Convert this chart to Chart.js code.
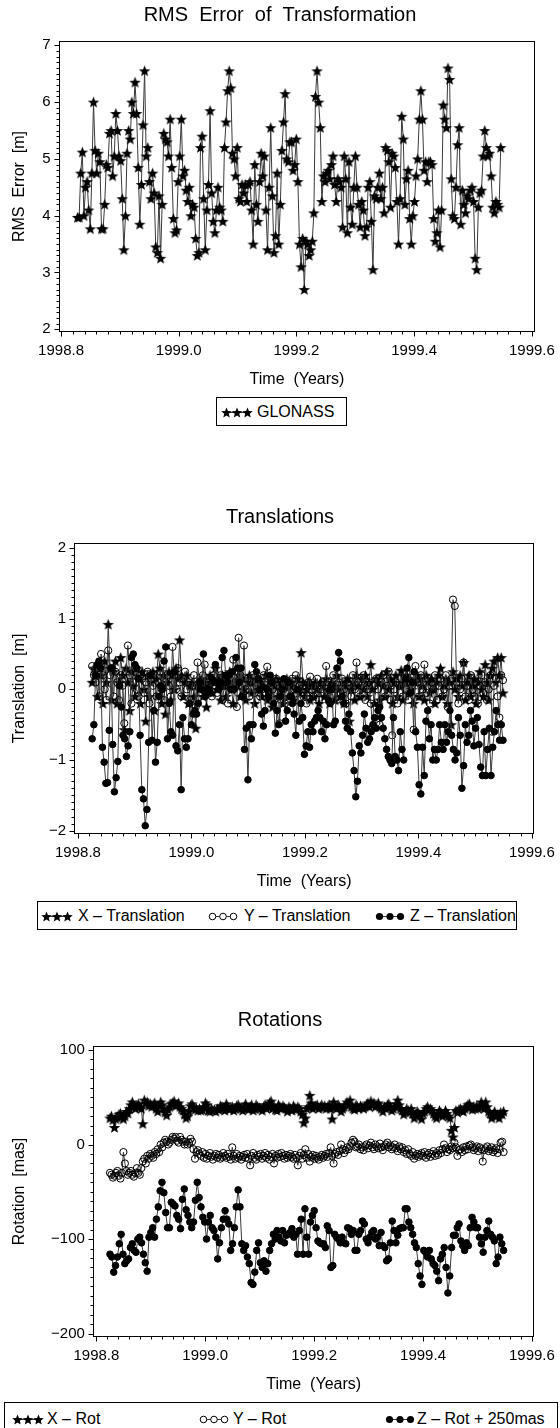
<!DOCTYPE html>
<html>
<head>
<meta charset="utf-8">
<script src="https://cdn.jsdelivr.net/npm/chart.js@4.4.1/dist/chart.umd.min.js"></script>
<style>
  html, body { margin: 0; padding: 0; background: #fff; }
  body { position: relative; width: 560px; height: 1428px; overflow: hidden;
         font-family: "Liberation Sans", Arial, Helvetica, sans-serif; color: #000; }
  canvas.plot { position: absolute; left: 0; }
  .legend { position: absolute; border: 1px solid #000; box-sizing: border-box; background: #fff; }
  .legend canvas { position: absolute; }
  .legend span { position: absolute; font-size: 16px; line-height: 18px; white-space: nowrap; }
</style>
</head>
<body>
<canvas id="c1" class="plot" width="560" height="400" style="top:0px;width:560px;height:400px"></canvas>
<canvas id="c2" class="plot" width="560" height="400" style="top:502px;width:560px;height:400px"></canvas>
<canvas id="c3" class="plot" width="560" height="400" style="top:1005px;width:560px;height:400px"></canvas>

<div class="legend" style="left:216px;top:397px;width:131px;height:29px">
  <canvas id="m1" width="32" height="14" style="left:4px;top:7px"></canvas>
  <span style="left:40px;top:5px">GLONASS</span>
</div>
<div class="legend" style="left:37px;top:901px;width:480px;height:29px">
  <canvas id="m2a" width="32" height="14" style="left:3px;top:7px"></canvas>
  <span style="left:40px;top:5px">X – Translation</span>
  <canvas id="m2b" width="32" height="14" style="left:169px;top:7px"></canvas>
  <span style="left:206px;top:5px">Y – Translation</span>
  <canvas id="m2c" width="32" height="14" style="left:336px;top:7px"></canvas>
  <span style="left:372px;top:5px">Z – Translation</span>
</div>
<div class="legend" style="left:4px;top:1402px;width:554px;height:40px">
  <canvas id="m3a" width="32" height="14" style="left:7px;top:9px"></canvas>
  <span style="left:42px;top:7px">X – Rot</span>
  <canvas id="m3b" width="32" height="14" style="left:193px;top:9px"></canvas>
  <span style="left:228px;top:7px">Y – Rot</span>
  <canvas id="m3c" width="32" height="14" style="left:379px;top:9px"></canvas>
  <span style="left:412px;top:7px">Z – Rot + 250mas</span>
</div>

<script>
// ---------------- DATA ----------------
const yearTicks = [1998.8, 1999.0, 1999.2, 1999.4, 1999.6];
const rmsTicks = [2, 3, 4, 5, 6, 7];
const translationTicks = [-2, -1, 0, 1, 2];
const rotationTicks = [-200, -100, 0, 100];

// first / last epoch of each daily series (decimal years)
const RMS_START = 1998.828, RMS_END = 1999.547;
const TR_START = 1998.825, TR_END = 1999.549;
const ROT_START = 1998.825, ROT_END = 1999.548;

const glonassRms = [
  3.97, 3.97, 4.75, 5.12, 4.0, 4.5, 4.6, 4.1, 3.77, 4.75,
  6.0, 5.15, 4.75, 5.1, 4.95, 3.77, 3.77, 4.2, 4.9, 4.85,
  5.45, 5.5, 4.7, 5.05, 5.8, 5.5, 5.05, 4.97, 4.3, 3.4,
  4.0, 5.1, 5.5, 5.35, 6.0, 5.8, 6.35, 5.8, 4.85, 3.85,
  4.55, 5.6, 6.55, 5.05, 5.2, 4.6, 4.3, 4.75, 4.4, 3.45,
  3.35, 4.35, 3.25, 4.2, 5.45, 5.35, 5.3, 5.05, 5.7, 4.85,
  3.95, 3.7, 3.75, 4.6, 5.05, 5.7, 4.7, 4.8, 4.45, 4.25,
  4.5, 4.0, 4.2, 4.15, 3.6, 3.3, 3.35, 5.2, 5.4, 4.3,
  3.4, 4.1, 4.55, 5.85, 4.4, 3.9, 3.7, 4.1, 4.5, 4.15,
  4.1, 3.9, 5.2, 5.65, 6.2, 6.55, 6.25, 5.1, 5.0, 4.7,
  5.2, 4.3, 4.25, 4.55, 4.4, 4.55, 4.25, 4.55, 4.6, 4.1,
  3.5, 4.9, 4.2, 3.9, 4.6, 5.1, 4.7, 5.05, 4.1, 3.4,
  4.5, 5.55, 4.35, 3.35, 3.65, 4.75, 3.5, 4.2, 5.15, 5.65,
  6.15, 5.0, 4.95, 5.3, 5.3, 4.8, 4.9, 5.35, 4.6, 3.5,
  3.1, 3.6, 2.7, 3.55, 3.5, 3.3, 3.4, 3.55, 4.05, 6.1,
  6.55, 6.0, 5.55, 4.25, 4.7, 4.6, 4.75, 4.8, 4.65, 4.9,
  5.05, 4.55, 4.25, 4.65, 4.6, 4.5, 3.8, 5.05, 4.65, 3.7,
  4.95, 4.15, 3.85, 4.5, 5.05, 4.5, 4.2, 3.8, 4.25, 4.1,
  3.65, 3.8, 4.5, 4.6, 3.9, 3.05, 4.35, 4.3, 4.5, 4.75,
  4.3, 4.5, 4.05, 5.2, 5.15, 4.95, 4.15, 5.1, 5.05, 4.85,
  4.25, 3.5, 4.3, 5.75, 5.35, 4.2, 4.65, 4.8, 3.95, 3.5,
  4.0, 4.25, 4.7, 5.0, 5.7, 6.2, 5.7, 4.8, 4.95, 4.6,
  4.95, 4.95, 4.9, 3.95, 3.55, 3.7, 4.1, 3.45, 4.1, 5.95,
  5.7, 5.55, 6.6, 6.4, 4.65, 4.0, 3.95, 4.5, 5.25, 5.55,
  3.85, 4.45, 4.2, 4.05, 4.35, 4.3, 4.45, 4.5, 4.25, 3.25,
  3.05, 4.15, 4.4, 4.45, 5.05, 5.5, 5.2, 5.05, 5.1, 4.7,
  4.15, 4.05, 4.25, 4.2, 4.15, 5.2
];

const xTranslation = [
  0.1, 0.3, 0.2, -0.1, 0.35, 0.2, -0.2, 0.4, 0.1, 0.92,
  0.3, -0.15, 0.25, 0.4, -0.2, 0.1, 0.45, 0.2, -0.57, 0.3,
  0.1, -0.3, 0.25, 0.05, -0.1, 0.3, 0.15, -0.2, 0.25, 0.0,
  -0.45, 0.2, -0.1, 0.1, 0.25, -0.3, 0.15, 0.5, 0.3, -0.2,
  0.2, -0.35, 0.1, 0.25, -0.15, 0.2, 0.0, 0.3, 0.15, 0.7,
  0.2, -0.1, 0.1, 0.2, -0.2, 0.05, 0.1, -0.1, -0.55, 0.05,
  0.0, 0.15, -0.1, 0.1, -0.25, 0.05, 0.2, -0.05, 0.1, 0.3,
  0.0, 0.15, -0.15, 0.2, 0.05, -0.1, 0.1, 0.25, 0.0, -0.2,
  0.1, 0.05, 0.2, -0.1, 0.15, 0.0, -0.15, 0.1, 0.2, -0.05,
  0.1, -0.2, 0.15, 0.0, 0.1, -0.1, 0.05, 0.2, -0.15, 0.0,
  0.1, -0.25, 0.05, 0.15, -0.1, 0.0, 0.1, -0.2, 0.05, 0.15,
  -0.1, 0.05, 0.1, -0.15, 0.0, 0.15, -0.05, 0.52, 0.1, -0.1,
  0.0, 0.1, -0.15, 0.05, -0.1, 0.1, 0.0, -0.2, 0.1, 0.05,
  -0.1, 0.15, 0.0, -0.2, 0.1, 0.05, -0.15, 0.2, 0.0, -0.1,
  0.1, -0.2, 0.05, 0.15, -0.45, 0.0, 0.1, -0.15, 0.2, 0.05,
  -0.1, 0.15, 0.0, 0.2, -0.1, 0.1, 0.35, 0.0, -0.2, 0.15,
  0.1, -0.15, 0.2, 0.05, -0.1, 0.25, 0.0, 0.15, -0.2, 0.1,
  0.2, -0.1, 0.05, 0.27, -0.15, 0.1, 0.2, -0.05, 0.15, 0.0,
  -0.2, 0.1, 0.2, -0.1, 0.15, 0.05, -0.15, 0.2, 0.1, -0.05,
  0.15, 0.0, -0.2, 0.1, 0.2, 0.3, -0.1, 0.05, 0.15, -0.2,
  0.1, -0.5, 0.25, 0.0, 0.15, -0.1, 0.2, 0.05, 0.38, -0.15,
  0.1, 0.2, -0.1, 0.05, 0.15, -0.2, 0.1, 0.25, 0.0, -0.1,
  0.35, 0.1, -0.15, 0.2, 0.3, 0.4, 0.1, 0.45, 0.2, 0.45, -0.05
];

const yTranslation = [
  0.33, 0.2, 0.1, 0.3, -0.1, 0.5, 0.2, 0.0, -0.15, 0.55,
  0.2, 0.3, -0.1, 0.25, 0.1, -0.15, 0.2, 0.05, -0.48, 0.25,
  0.62, 0.2, -0.2, 0.1, 0.25, 0.0, -0.1, 0.2, 0.15, -0.05,
  0.1, 0.25, -0.2, 0.15, 0.05, 0.2, -0.1, 0.1, 0.25, 0.0,
  -0.15, 0.1, 0.2, 0.05, -0.1, 0.6, 0.2, 0.0, 0.3, 0.1,
  -0.1, 0.15, 0.25, 0.0, 0.1, -0.15, 0.05, 0.2, -0.25, 0.38,
  0.1, -0.05, 0.2, 0.35, 0.1, 0.0, 0.15, -0.1, 0.2, 0.05,
  -0.05, 0.1, 0.2, -0.15, 0.05, 0.1, -0.2, 0.15, 0.0, 0.42,
  0.1, -0.25, 0.73, 0.2, -0.1, 0.62, 0.0, 0.15, -0.1, 0.1,
  0.2, -0.05, 0.05, 0.15, -0.1, 0.0, 0.2, 0.1, 0.32, -0.05,
  0.1, 0.0, -0.15, 0.15, 0.05, -0.48, 0.1, 0.0, -0.2, 0.1,
  0.05, -0.1, 0.15, 0.0, 0.2, -0.15, 0.05, 0.1, -0.05, 0.0,
  -0.2, 0.1, 0.18, 0.0, -0.1, 0.05, 0.15, -0.15, 0.0, 0.1,
  -0.05, 0.33, 0.1, -0.1, 0.05, 0.2, 0.0, -0.15, 0.1, -0.05,
  0.15, 0.0, -0.2, 0.1, 0.05, -0.1, 0.2, 0.0, 0.38, 0.1,
  -0.1, 0.05, 0.2, -0.15, 0.0, 0.1, -0.2, -0.55, 0.05, 0.15,
  0.0, -0.5, 0.1, 0.2, -0.1, 0.05, 0.25, -0.15, -0.65, 0.0,
  0.1, -0.2, 0.05, 0.15, -0.1, 0.2, 0.0, -0.15, 0.1, 0.05,
  -0.57, 0.33, 0.1, -0.1, 0.2, 0.0, 0.35, -0.05, 0.15, -0.2,
  0.1, 0.0, 0.2, -0.15, 0.05, 0.15, -0.1, 0.0, 0.2, -0.25,
  0.05, 0.15, 1.27, 1.18, 0.1, -0.2, 0.0, 0.15, 0.38, -0.1,
  0.05, -0.15, 0.2, 0.0, -0.1, 0.1, -0.2, 0.05, 0.2, -0.05,
  0.1, -0.15, 0.0, 0.2, -0.6, 0.05, 0.15, -0.1, -0.4, 0.2, 0.13
];

const zTranslation = [
  -0.7, -0.5, 0.2, 0.35, 0.4, 0.3, -0.82, -1.03, -1.33, -1.32,
  -0.58, 0.3, -0.78, -1.45, -1.25, -1.02, 0.05, -0.25, -0.65, -0.7,
  -0.95, -0.8, -0.6, 0.45, 0.5, 0.35, 0.3, 0.15, -0.65, -1.42,
  -1.55, -1.93, -1.7, -0.75, 0.2, -0.72, -0.3, -1.03, -0.75, -0.1,
  0.05, 0.0, 0.4, 0.6, -0.7, -0.2, -0.6, -0.65, 0.25, -0.8,
  -0.87, -0.5, -1.42, -0.4, -0.7, -0.82, -0.7, -0.2, -0.5, -0.35,
  -0.3, -0.35, -0.2, 0.1, 0.0, 0.5, -0.1, 0.0, 0.0, -0.05,
  0.15, 0.1, 0.35, 0.1, 0.0, 0.1, 0.45, 0.55, 0.2, 0.1,
  0.2, 0.0, 0.25, 0.0, 0.45, 0.3, 0.1, 0.3, -0.1, -0.85,
  -0.55, -1.28, -0.5, -0.7, -0.5, 0.35, 0.25, 0.15, 0.0, -0.35,
  -0.52, -0.3, 0.0, -0.1, 0.2, 0.1, -0.2, -0.62, -0.3, -0.5,
  -0.1, 0.0, 0.15, -0.45, -0.3, 0.1, -0.1, -0.2, -0.35, -0.65,
  0.0, -0.45, -0.2, -0.4, -0.92, -0.8, -0.6, -0.82, -0.5, -0.6,
  -0.45, -0.4, -0.3, -0.4, -0.6, -0.45, -0.7, -0.5, -0.15, -0.2,
  0.0, -0.5, -0.45, 0.3, 0.52, 0.4, -0.1, -0.2, -0.45, -0.55,
  -0.35, -0.6, -0.9, -1.15, -1.52, -1.3, -0.8, -0.9, -0.65, -0.35,
  -0.55, -0.75, -0.7, -0.6, -0.5, -0.4, -0.55, -0.3, -0.25, -0.4,
  -0.55, -0.7, -0.85, -0.95, -1.0, -1.05, -0.4, -0.95, -1.0, -1.15,
  -0.6, -0.85, -1.0, 0.15, 0.3, 0.45, -0.05, 0.1, 0.25, -0.6,
  -0.82, -1.35, -1.48, -0.82, -1.22, -0.45, -0.3, -0.7, -0.5, -1.0,
  -0.85, -1.0, -0.85, -0.5, -0.75, -0.85, -0.5, -0.75, -0.6, -0.3,
  -0.65, -0.85, -1.0, -0.9, -0.4, -0.65, -1.4, -1.08, -0.5, -0.75,
  -0.65, -0.3, -0.45, -0.8, -0.55, -0.4, -0.78, -1.1, -1.22, -0.6,
  -1.22, -0.85, -0.55, -1.22, -0.82, -0.6, -0.3, -0.5, -0.72, -0.5, -0.72
];

const xRot = [
  28, 30, 26, 18, 27, 29, 32, 33, 30, 27,
  30, 35, 33, 38, 42, 45, 40, 38, 41, 43,
  40, 38, 22, 47, 44, 45, 41, 43, 40, 42,
  44, 38, 35, 41, 45, 42, 38, 34, 31, 37,
  40, 43, 44, 46, 41, 42, 44, 40, 38, 36,
  32, 28, 30, 35, 41, 43, 40, 37, 38, 36,
  38, 36, 37, 40, 44, 42, 36, 35, 38, 36,
  37, 35, 38, 37, 41, 40, 38, 36, 43, 40,
  37, 39, 40, 36, 38, 41, 42, 39, 38, 36,
  40, 43, 38, 37, 40, 42, 36, 38, 42, 40,
  39, 38, 36, 40, 42, 38, 40, 44, 46, 38,
  40, 37, 36, 42, 40, 38, 41, 39, 38, 35,
  40, 38, 36, 41, 39, 37, 40, 38, 35, 32,
  23, 28, 38, 40, 52, 44, 38, 40, 41, 42,
  38, 40, 42, 39, 41, 38, 40, 42, 38, 27,
  45, 40, 38, 42, 40, 35, 38, 40, 42, 45,
  43, 47, 40, 38, 37, 42, 40, 38, 41, 40,
  38, 40, 42, 44, 40, 46, 42, 44, 40, 42,
  44, 40, 38, 35, 40, 38, 42, 43, 40, 36,
  38, 40, 43, 47, 42, 38, 36, 32, 35, 38,
  36, 34, 38, 33, 28, 32, 35, 33, 30, 27,
  33, 35, 38, 40, 37, 38, 36, 33, 30, 28,
  33, 36, 34, 30, 32, 36, 33, 30, 28, 15,
  8, 18, 36, 34, 37, 38, 36, 35, 38, 40,
  42, 43, 40, 37, 40, 38, 41, 38, 40, 45,
  42, 38, 45, 40, 35, 33, 28, 32, 35, 30,
  32, 28, 34, 32, 35
];

const yRot = [
  -30, -32, -35, -33, -30, -28, -33, -36, -30, -8,
  -20, -28, -32, -30, -28, -32, -34, -30, -25, -30,
  -32, -25, -18, -15, -20, -12, -15, -10, -12, -14,
  -8, -10, -5, -8, 0, -3, 2, 5, 3, 0,
  2, 5, 8, 6, 8, 4, 2, 8, 5, 3,
  0, 3, 0, 2, 6, 3, -5, -15, -8, -6,
  -10, -12, -8, -14, -10, -15, -12, -9, -13, -16,
  -12, -10, -14, -11, -15, -13, -9, -12, -14, -10,
  -13, -16, -3, -12, -15, -10, -14, -12, -16, -13,
  -11, -14, -10, -15, -22, -12, -9, -14, -16, -11,
  -13, -10, -15, -12, -9, -14, -11, -16, -13, -10,
  -20, -12, -14, -10, -13, -9, -12, -15, -11, -14,
  -12, -10, -13, -15, -11, -14, -22, -12, -9, -15,
  -11, -5, -14, -10, -18, -13, -11, -15, -12, -14,
  -16, -13, -11, -14, -12, -10, -13, -9, -3, -12,
  -20, -10, -8, -11, -7, 0, -5, -9, -6, -3,
  -5, -2, 2, 5, 3, -3, -2, 0, -5, -3,
  -6, -2, 0, -4, -1, 2, -3, -5, 0, -2,
  -4, 1, -3, -6, -2, 0, 2, -3, -1, -5,
  -3, 0, -4, -7, -2, -5, -3, -8, -6, -10,
  -5, -10, -12, -8, -15, -12, -10, -13, -11, -9,
  -12, -8, -14, -11, -9, -13, -10, -7, -12, -9,
  -11, -6, -9, -5, 0, -4, -8, -5, -6, -2,
  -4, 2, -3, -12, -6, -5, -8, -3, -6, -2,
  -5, -1, 0, -3, -6, -4, -2, -7, -3, -5,
  -18, -6, -4, -2, -7, -5, -3, -8, -6, -4,
  -9, -5, 2, 3, -8
];

const zRotPlus250 = [
  -116, -119, -135, -128, -119, -105, -95, -116, -126, -123,
  -121, -109, -105, -112, -114, -100, -98, -104, -116, -125,
  -134, -98, -93, -88, -98, -79, -66, -49, -40, -51,
  -72, -88, -88, -61, -63, -65, -75, -79, -89, -58,
  -47, -69, -75, -82, -88, -82, -59, -40, -56, -66,
  -77, -82, -100, -82, -75, -88, -91, -98, -121, -104,
  -88, -79, -70, -79, -84, -112, -105, -88, -66, -48,
  -66, -105, -112, -107, -119, -126, -146, -148, -135, -112,
  -104, -125, -130, -123, -134, -126, -112, -105, -95, -100,
  -91, -98, -102, -91, -104, -96, -95, -93, -89, -98,
  -95, -116, -91, -79, -116, -68,
  -98, -116, -82, -75, -70, -88, -102, -104, -105,
  -105, -109, -86, -91, -130, -128, -95, -98, -100, -104,
  -98, -104, -105, -88, -89, -95, -91, -112, -112, -95,
  -91, -81, -84, -100, -104, -98, -93, -91, -100, -98,
  -107, -93, -107, -109, -123, -121, -104, -81, -91, -104,
  -96, -89, -88, -88, -68, -68, -82, -88, -95, -104,
  -109, -126, -139, -148, -112, -114, -119, -112, -121, -126,
  -128, -134, -144, -121, -116, -109, -130, -157, -139, -109,
  -96, -96, -88, -84, -102, -107, -112, -104, -107, -88,
  -77, -82, -88, -88, -98, -105, -114, -98, -91, -81,
  -95, -98, -102, -126, -119, -98, -105, -112
];

// ---------------- HELPERS ----------------
Chart.defaults.font.family = '"Liberation Sans", Arial, Helvetica, sans-serif';
Chart.defaults.color = '#000';

function epochs(n, t0, t1) {
  const out = [];
  for (let i = 0; i < n; i++) out.push(t0 + (t1 - t0) * i / (n - 1));
  return out;
}
function toPoints(values, t0, t1) {
  const t = epochs(values.length, t0, t1);
  return values.map((v, i) => ({ x: t[i], y: v }));
}
function starPath(ctx, cx, cy, R, r) {
  ctx.beginPath();
  for (let k = 0; k < 10; k++) {
    const rad = (k % 2) ? r : R;
    const a = -Math.PI / 2 + k * Math.PI / 5;
    const px = cx + rad * Math.cos(a), py = cy + rad * Math.sin(a);
    if (k === 0) ctx.moveTo(px, py); else ctx.lineTo(px, py);
  }
  ctx.closePath();
}
const starImg = document.createElement('canvas');
starImg.width = 13; starImg.height = 13;
(function () {
  const c = starImg.getContext('2d');
  starPath(c, 6.5, 7, 6, 2.6);
  c.fillStyle = '#000';
  c.fill();
})();

function drawMarker(ctx, type, x, y) {
  if (type === 'star') {
    starPath(ctx, x, y + 0.5, 5.5, 2.4); ctx.fillStyle = '#000'; ctx.fill();
  } else if (type === 'circle') {
    ctx.beginPath(); ctx.arc(x, y, 3.3, 0, Math.PI * 2);
    ctx.fillStyle = '#fff'; ctx.fill(); ctx.strokeStyle = '#000'; ctx.lineWidth = 1; ctx.stroke();
  } else {
    ctx.beginPath(); ctx.arc(x, y, 3.6, 0, Math.PI * 2); ctx.fillStyle = '#000'; ctx.fill();
  }
}
function legendMarker(id, type) {
  const cv = document.getElementById(id);
  const ctx = cv.getContext('2d');
  ctx.strokeStyle = '#333'; ctx.lineWidth = 1;
  ctx.beginPath(); ctx.moveTo(2, 7.5); ctx.lineTo(30, 7.5); ctx.stroke();
  [5.5, 16, 26.5].forEach(x => drawMarker(ctx, type, x, 7.5));
}

const axisFrame = {
  id: 'axisFrame',
  afterDatasetsDraw(chart, args, opts) {
    const { ctx, chartArea: a, scales } = chart;
    const xs = scales.x, ys = scales.y;
    ctx.save();
    ctx.strokeStyle = '#000';
    ctx.lineWidth = 1;
    const L = Math.round(a.left) + 0.5, R = Math.round(a.right) - 0.5;
    const T = Math.round(a.top) + 0.5, B = Math.round(a.bottom) - 0.5;
    ctx.strokeRect(L, T, R - L, B - T);
    ctx.beginPath();
    const isMajor = (v, list, eps) => list.some(m => Math.abs(m - v) < eps);
    for (let k = Math.ceil((xs.min - 1e-9) / opts.xStep); k * opts.xStep <= xs.max + 1e-9; k++) {
      const v = k * opts.xStep;
      const p = Math.round(xs.getPixelForValue(v)) + 0.5;
      const len = isMajor(v, opts.xMajor, opts.xStep / 4) ? 5 : 3;
      ctx.moveTo(p, B); ctx.lineTo(p, B + len);
    }
    for (let k = Math.ceil((ys.min - 1e-9) / opts.yStep); k * opts.yStep <= ys.max + 1e-9; k++) {
      const v = k * opts.yStep;
      const p = Math.round(ys.getPixelForValue(v)) + 0.5;
      const len = isMajor(v, opts.yMajor, opts.yStep / 4) ? 5 : 3;
      ctx.moveTo(L, p); ctx.lineTo(L - len, p);
    }
    ctx.stroke();
    ctx.restore();
  }
};

const styles = {
  star:   { pointStyle: starImg, pointRadius: 5, pointHoverRadius: 5 },
  circle: { pointStyle: 'circle', pointRadius: 3.6, pointBorderWidth: 1,
            pointBorderColor: '#000', pointBackgroundColor: 'rgba(255,255,255,0)' },
  dot:    { pointStyle: 'circle', pointRadius: 3.3, pointBorderWidth: 1,
            pointBorderColor: '#000', pointBackgroundColor: '#000' }
};
function ds(label, points, style, order) {
  return Object.assign({
    label, data: points, borderColor: '#3a3a3a', borderWidth: 1, tension: 0,
    fill: false, showLine: true, order
  }, styles[style]);
}
const fmtNum = v => String(v).replace('-', '\u2212');

function makeChart(id, c) {
  return new Chart(document.getElementById(id), {
    type: 'line',
    data: { datasets: c.datasets },
    plugins: [axisFrame],
    options: {
      responsive: false, animation: false, devicePixelRatio: 1, events: [],
      layout: { padding: 0 },
      plugins: {
        legend: { display: false },
        tooltip: { enabled: false },
        title: { display: true, text: c.title, color: '#000',
                 font: { size: 20, weight: 'normal', lineHeight: 1.2 },
                 padding: { top: 3, bottom: 14 } },
        axisFrame: { xMajor: yearTicks, xStep: 0.02, yMajor: c.yTicks, yStep: c.yStep }
      },
      scales: {
        x: {
          type: 'linear', position: 'bottom', min: c.xMin, max: c.xMax, bounds: 'data',
          afterBuildTicks: s => { s.ticks = yearTicks.map(v => ({ value: v })); },
          afterFit: s => { s.height = 68; },
          ticks: { autoSkip: false, maxRotation: 0, padding: 5, color: '#000',
                   font: { size: 15 }, callback: v => Number(v).toFixed(1) },
          grid: { display: false, drawTicks: true, tickLength: 5 },
          border: { display: false },
          title: { display: true, text: 'Time  (Years)', color: '#000',
                   font: { size: 16 }, padding: { top: 0, bottom: 10.4 } }
        },
        y: {
          type: 'linear', position: 'left', min: c.yMin, max: c.yMax, bounds: 'data',
          afterBuildTicks: s => { s.ticks = c.yTicks.map(v => ({ value: v })); },
          afterFit: s => { s.width = c.left; },
          ticks: { autoSkip: false, padding: 3, color: '#000', font: { size: 15 },
                   callback: v => fmtNum(v) },
          grid: { display: false, drawTicks: true, tickLength: 5 },
          border: { display: false },
          title: { display: true, text: c.yTitle, color: '#000',
                   font: { size: 16 }, padding: { top: 10, bottom: 0 } }
        },
        yR: {
          type: 'linear', position: 'right', display: true,
          afterFit: s => { s.width = 24.5; },
          ticks: { display: false },
          grid: { display: false, drawTicks: false },
          border: { display: false }
        }
      }
    }
  });
}

// ---------------- CHARTS ----------------
makeChart('c1', {
  title: 'RMS  Error  of  Transformation', yTitle: 'RMS  Error  [m]',
  left: 58.7, xMin: 1998.796, xMax: 1999.6058, yMin: 1.952, yMax: 7.076,
  yTicks: rmsTicks, yStep: 0.1,
  datasets: [ds('GLONASS', toPoints(glonassRms, RMS_START, RMS_END), 'star', 0)]
});

makeChart('c2', {
  title: 'Translations', yTitle: 'Translation  [m]',
  left: 74, xMin: 1998.793, xMax: 1999.6044, yMin: -2.047, yMax: 2.071,
  yTicks: translationTicks, yStep: 0.1,
  datasets: [
    ds('X - Translation', toPoints(xTranslation, TR_START, TR_END), 'star', 2),
    ds('Y - Translation', toPoints(yTranslation, TR_START, TR_END), 'circle', 1),
    ds('Z - Translation', toPoints(zTranslation, TR_START, TR_END), 'dot', 0)
  ]
});

makeChart('c3', {
  title: 'Rotations', yTitle: 'Rotation  [mas]',
  left: 92.9, xMin: 1998.7936, xMax: 1999.6046, yMin: -203.6, yMax: 104.2,
  yTicks: rotationTicks, yStep: 10,
  datasets: [
    ds('X - Rot', toPoints(xRot, ROT_START, ROT_END), 'star', 2),
    ds('Y - Rot', toPoints(yRot, ROT_START, ROT_END), 'circle', 1),
    ds('Z - Rot + 250mas', toPoints(zRotPlus250, ROT_START, ROT_END), 'dot', 0)
  ]
});

legendMarker('m1', 'star');
legendMarker('m2a', 'star');
legendMarker('m2b', 'circle');
legendMarker('m2c', 'dot');
legendMarker('m3a', 'star');
legendMarker('m3b', 'circle');
legendMarker('m3c', 'dot');
</script>
</body>
</html>
